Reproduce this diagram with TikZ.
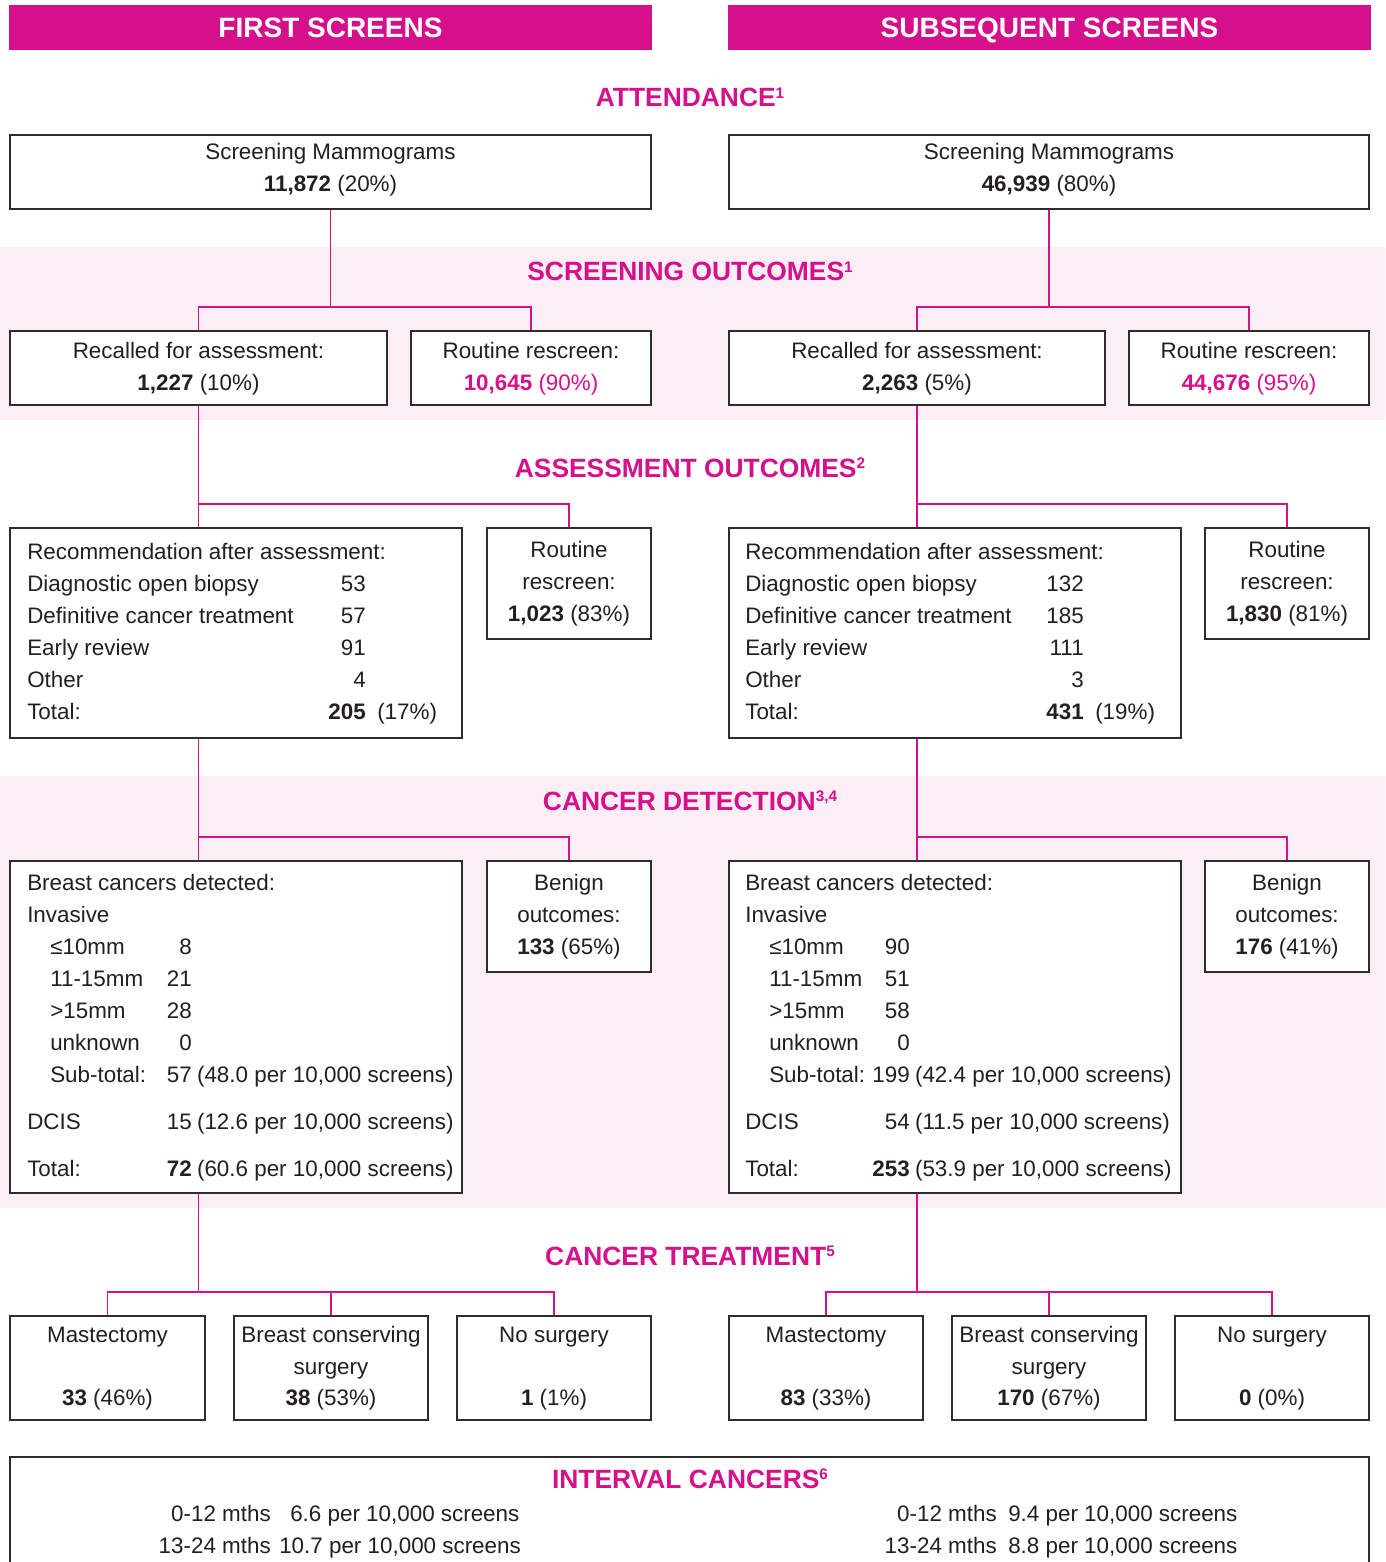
\documentclass[tikz,border=0pt]{standalone}
\usepackage{fontspec}
\setmainfont{Liberation Sans}
\usetikzlibrary{fit}
\definecolor{mag}{RGB}{214,16,138}
\definecolor{band}{RGB}{252,238,245}
\definecolor{edge}{RGB}{45,45,45}
\definecolor{ink}{RGB}{35,31,32}
\newcommand\supn[1]{\raisebox{6.2pt}{\fontsize{11.5}{11.5}\selectfont #1}}
\newcommand\myBox[5]{\node[box, fit={(#2,#3)(#4,#5)}] (#1) {};}
\newcommand\myC[4]{\node[txt, anchor=base] (#1) at (#2,#3) {#4};}
\newcommand\myL[4]{\node[txt, anchor=base west] (#1) at (#2,#3) {#4};}
\newcommand\myR[4]{\node[txt, anchor=base east] (#1) at (#2,#3) {#4};}
\begin{document}
\begin{tikzpicture}[x=0.75pt,y=-0.75pt,
 box/.style={draw=edge, fill=white, line width=1.5pt, inner sep=0pt},
 txt/.style={inner sep=0pt, font=\fontsize{16.8}{24}\selectfont, text=ink},
 head/.style={inner sep=0pt, anchor=base, font=\fontsize{19.8}{22}\selectfont\bfseries, text=mag},
 bar/.style={fill=mag, inner sep=0pt, text=white, font=\fontsize{21}{24}\selectfont\bfseries, minimum width=482.25pt, minimum height=33.75pt, text height=15pt, text depth=0pt},
 conn/.style={draw=mag, line width=0.8pt}]
\useasboundingbox (0,0) rectangle (1385,1562);
\fill[white] (0,0) rectangle (1385,1562);
% bands
\fill[band] (0,247) rectangle (1385,420);
\fill[band] (0,776) rectangle (1385,1208);
% title bars
\node[bar] (T1) at (330.5,27.5) {FIRST SCREENS};
\node[bar] (T2) at (1049.5,27.5) {SUBSEQUENT SCREENS};
% headings
\node[head] (H1) at (690,107) {ATTENDANCE\supn{1}};
\node[head] (H2) at (690,281) {SCREENING OUTCOMES\supn{1}};
\node[head] (H3) at (690,477) {ASSESSMENT OUTCOMES\supn{2}};
\node[head] (H4) at (690,810) {CANCER DETECTION\supn{3,4}};
\node[head] (H5) at (690,1265) {CANCER TREATMENT\supn{5}};
% ---------- boxes ----------
\myBox{A}{10}{135}{651}{209}
\myBox{Ab}{729}{135}{1369}{209}
\myBox{R1}{10}{331}{387}{405}
\myBox{R2}{411}{331}{651}{405}
\myBox{R1b}{729}{331}{1105}{405}
\myBox{R2b}{1129}{331}{1369}{405}
\myBox{Rec}{10}{528}{462}{738}
\myBox{RR}{487}{528}{651}{639}
\myBox{Recb}{729}{528}{1181}{738}
\myBox{RRb}{1205}{528}{1369}{639}
\myBox{Br}{10}{861}{462}{1193}
\myBox{Ben}{487}{861}{651}{972}
\myBox{Brb}{729}{861}{1181}{1193}
\myBox{Benb}{1205}{861}{1369}{972}
\myBox{M}{10}{1316}{205}{1420}
\myBox{B}{234}{1316}{428}{1420}
\myBox{N}{457}{1316}{651}{1420}
\myBox{Mb}{729}{1316}{923}{1420}
\myBox{Bb}{952}{1316}{1146}{1420}
\myBox{Nb}{1175}{1316}{1369}{1420}
\myBox{IC}{10}{1457}{1369}{1620}
% ---------- connectors left ----------
\coordinate (j1) at (330.5,307);
\draw[conn] (A.south) -- (j1);
\draw[conn] (R1.north) |- (j1) -| (R2.north);
\coordinate (j2) at (198.5,504);
\draw[conn] (R1.south) -- (R1.south |- Rec.north);
\draw[conn] (j2) -| (RR.north);
\coordinate (j3) at (198.5,837);
\draw[conn] (R1.south |- Rec.south) -- (R1.south |- Br.north);
\draw[conn] (j3) -| (Ben.north);
\coordinate (j4) at (198.5,1292);
\draw[conn] (R1.south |- Br.south) -- (j4);
\draw[conn] (M.north) |- (j4) -| (N.north);
\draw[conn] (B.north) -- (B.north |- j4);
% ---------- connectors right ----------
\coordinate (k1) at (1049,307);
\draw[conn] (Ab.south) -- (k1);
\draw[conn] (R1b.north) |- (k1) -| (R2b.north);
\coordinate (k2) at (917,504);
\draw[conn] (R1b.south) -- (R1b.south |- Recb.north);
\draw[conn] (k2) -| (RRb.north);
\coordinate (k3) at (917,837);
\draw[conn] (R1b.south |- Recb.south) -- (R1b.south |- Brb.north);
\draw[conn] (k3) -| (Benb.north);
\coordinate (k4) at (917,1292);
\draw[conn] (R1b.south |- Brb.south) -- (k4);
\draw[conn] (Mb.north) |- (k4) -| (Nb.north);
\draw[conn] (Bb.north) -- (Bb.north |- k4);
% ---------- attendance ----------
\myC{a1}{330.5}{160}{Screening Mammograms}
\myC{a2}{330.5}{192}{\textbf{11,872} (20\%)}
\myC{b1}{1049}{160}{Screening Mammograms}
\myC{b2}{1049}{192}{\textbf{46,939} (80\%)}
% ---------- screening outcomes ----------
\myC{c1}{198.5}{358}{Recalled for assessment:}
\myC{c2}{198.5}{390}{\textbf{1,227} (10\%)}
\myC{c3}{531}{358}{Routine rescreen:}
\myC{c4}{531}{390}{\color{mag}\textbf{10,645} (90\%)}
\myC{d1}{917}{358}{Recalled for assessment:}
\myC{d2}{917}{390}{\textbf{2,263} (5\%)}
\myC{d3}{1249}{358}{Routine rescreen:}
\myC{d4}{1249}{390}{\color{mag}\textbf{44,676} (95\%)}
% ---------- assessment outcomes left ----------
\myL{e1}{27}{559}{Recommendation after assessment:}
\myL{e2}{27}{591}{Diagnostic open biopsy}
\myL{e3}{27}{623}{Definitive cancer treatment}
\myL{e4}{27}{655}{Early review}
\myL{e5}{27}{687}{Other}
\myL{e6}{27}{719}{Total:}
\myR{e7}{366}{591}{53}
\myR{e8}{366}{623}{57}
\myR{e9}{366}{655}{91}
\myR{e10}{366}{687}{4}
\myR{e11}{366}{719}{\textbf{205}}
\myL{e12}{377}{719}{(17\%)}
\myC{e13}{569}{557}{Routine}
\myC{e14}{569}{589}{rescreen:}
\myC{e15}{569}{621}{\textbf{1,023} (83\%)}
% ---------- assessment outcomes right ----------
\myL{f1}{745}{559}{Recommendation after assessment:}
\myL{f2}{745}{591}{Diagnostic open biopsy}
\myL{f3}{745}{623}{Definitive cancer treatment}
\myL{f4}{745}{655}{Early review}
\myL{f5}{745}{687}{Other}
\myL{f6}{745}{719}{Total:}
\myR{f7}{1084}{591}{132}
\myR{f8}{1084}{623}{185}
\myR{f9}{1084}{655}{111}
\myR{f10}{1084}{687}{3}
\myR{f11}{1084}{719}{\textbf{431}}
\myL{f12}{1095}{719}{(19\%)}
\myC{f13}{1287}{557}{Routine}
\myC{f14}{1287}{589}{rescreen:}
\myC{f15}{1287}{621}{\textbf{1,830} (81\%)}
% ---------- cancer detection left ----------
\myL{g1}{27}{890}{Breast cancers detected:}
\myL{g2}{27}{922}{Invasive}
\myL{g3}{50}{954}{≤10mm}
\myL{g4}{50}{986}{11-15mm}
\myL{g5}{50}{1018}{>15mm}
\myL{g6}{50}{1050}{unknown}
\myL{g7}{50}{1082}{Sub-total:}
\myL{g8}{27}{1129}{DCIS}
\myL{g9}{27}{1176}{Total:}
\myR{g10}{192}{954}{8}
\myR{g11}{192}{986}{21}
\myR{g12}{192}{1018}{28}
\myR{g13}{192}{1050}{0}
\myR{g14}{192}{1082}{57}
\myL{g15}{192}{1082}{\hspace{3.6pt}(48.0 per 10,000 screens)}
\myR{g16}{192}{1129}{15}
\myL{g17}{192}{1129}{\hspace{3.6pt}(12.6 per 10,000 screens)}
\myR{g18}{192}{1176}{\textbf{72}}
\myL{g19}{192}{1176}{\hspace{3.6pt}(60.6 per 10,000 screens)}
\myC{g20}{569}{890}{Benign}
\myC{g21}{569}{922}{outcomes:}
\myC{g22}{569}{954}{\textbf{133} (65\%)}
% ---------- cancer detection right ----------
\myL{h1}{745}{890}{Breast cancers detected:}
\myL{h2}{745}{922}{Invasive}
\myL{h3}{769}{954}{≤10mm}
\myL{h4}{769}{986}{11-15mm}
\myL{h5}{769}{1018}{>15mm}
\myL{h6}{769}{1050}{unknown}
\myL{h7}{769}{1082}{Sub-total:}
\myL{h8}{745}{1129}{DCIS}
\myL{h9}{745}{1176}{Total:}
\myR{h10}{910}{954}{90}
\myR{h11}{910}{986}{51}
\myR{h12}{910}{1018}{58}
\myR{h13}{910}{1050}{0}
\myR{h14}{910}{1082}{199}
\myL{h15}{910}{1082}{\hspace{3.6pt}(42.4 per 10,000 screens)}
\myR{h16}{910}{1129}{54}
\myL{h17}{910}{1129}{\hspace{3.6pt}(11.5 per 10,000 screens)}
\myR{h18}{910}{1176}{\textbf{253}}
\myL{h19}{910}{1176}{\hspace{3.6pt}(53.9 per 10,000 screens)}
\myC{h20}{1287}{890}{Benign}
\myC{h21}{1287}{922}{outcomes:}
\myC{h22}{1287}{954}{\textbf{176} (41\%)}
% ---------- cancer treatment ----------
\myC{m1}{107.5}{1342}{Mastectomy}
\myC{m2}{107.5}{1405}{\textbf{33} (46\%)}
\myC{m3}{331}{1342}{Breast conserving}
\myC{m4}{331}{1374}{surgery}
\myC{m5}{331}{1405}{\textbf{38} (53\%)}
\myC{m6}{554}{1342}{No surgery}
\myC{m7}{554}{1405}{\textbf{1} (1\%)}
\myC{n1}{826}{1342}{Mastectomy}
\myC{n2}{826}{1405}{\textbf{83} (33\%)}
\myC{n3}{1049}{1342}{Breast conserving}
\myC{n4}{1049}{1374}{surgery}
\myC{n5}{1049}{1405}{\textbf{170} (67\%)}
\myC{n6}{1272}{1342}{No surgery}
\myC{n7}{1272}{1405}{\textbf{0} (0\%)}
% ---------- interval cancers ----------
\node[head] (H6) at (690,1488) {INTERVAL CANCERS\supn{6}};
\myR{p1}{271}{1521}{0-12 mths}
\myL{p2}{290}{1521}{6.6 per 10,000 screens}
\myR{p3}{271}{1553}{13-24 mths}
\myL{p4}{279}{1553}{10.7 per 10,000 screens}
\myR{q1}{997}{1521}{0-12 mths}
\myL{q2}{1008}{1521}{9.4 per 10,000 screens}
\myR{q3}{997}{1553}{13-24 mths}
\myL{q4}{1008}{1553}{8.8 per 10,000 screens}
\end{tikzpicture}
\end{document}
